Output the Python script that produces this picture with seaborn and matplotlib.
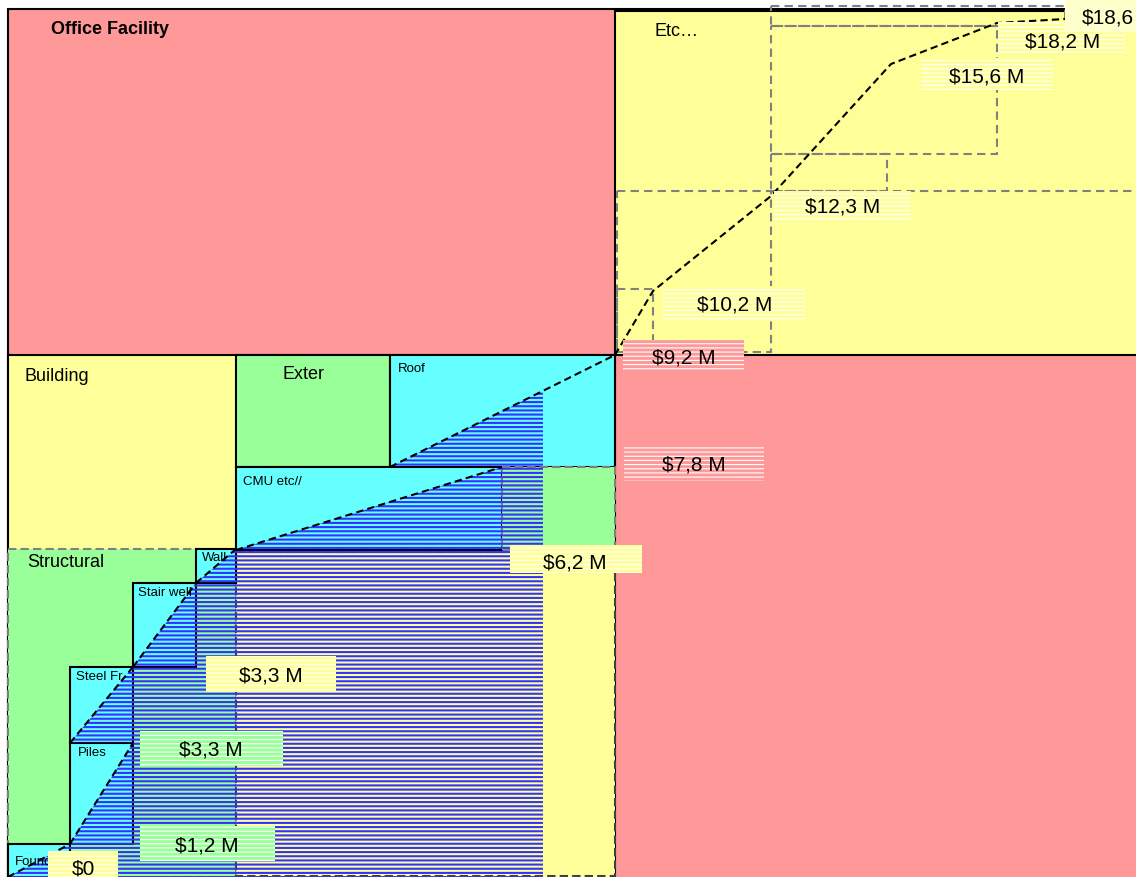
import matplotlib
matplotlib.use("Agg")
import matplotlib.pyplot as plt
from matplotlib.patches import Rectangle, Polygon
import seaborn as sns

# work breakdown boxes, in the pixel grid of the original sheet (left, top, right, bottom)
box_names = ["office", "building", "etc", "structural", "exter", "roof", "cmu", "cmu_rest",
             "interior", "wall", "stair", "steel", "piles", "found"]
box_left = [8, 8, 615, 8, 236, 390, 236, 502, 236, 196, 133, 70, 70, 8]
box_top = [10, 356, 12, 550, 356, 356, 468, 468, 553, 550, 584, 668, 744, 845]
box_right = [1140, 615, 1140, 236, 390, 615, 502, 615, 615, 236, 196, 133, 133, 70]
box_bottom = [882, 882, 356, 878, 468, 468, 551, 551, 877, 584, 668, 744, 845, 878]
box_kind = ["red", "yellow", "yellow", "green", "green", "cyan", "cyan", "green",
            "yellow", "cyan", "cyan", "cyan", "cyan", "cyan"]

# package names written in the boxes
name_text = ["Office Facility", "Building", "Etc…", "Structural", "Exter", "Roof", "CMU etc//",
             "Wall", "Stair well", "Steel Fr", "Piles", "Found"]
name_x = [51, 24, 655, 27, 282, 398, 243, 202, 138, 76, 78, 15]
name_y = [30, 377, 31, 563, 375, 369, 482, 558, 593, 677, 753, 862]

# boxes the cumulative cost line climbs through (in order)
step_boxes = ["found", "piles", "steel", "stair", "wall", "cmu", "roof"]

# cumulative cost line through the "Etc" part
etc_x = [615, 653, 771, 891, 997, 1065, 1090]
etc_y = [356, 292, 197, 65, 24, 20, 17]

# planned milestone frames (grey dashed)
frame_left = [617, 617, 771, 771, 771]
frame_top = [290, 192, 155, 27, 7]
frame_right = [653, 771, 887, 997, 1065]
frame_bottom = [353, 353, 192, 155, 27]

# cumulative cost labels
cost_text = ["$0", "$1,2 M", "$3,3 M", "$3,3 M", "$6,2 M", "$7,8 M", "$9,2 M",
             "$10,2 M", "$12,3 M", "$15,6 M", "$18,2 M", "$18,6"]
cost_x = [72, 175, 179, 239, 543, 662, 652, 697, 805, 949, 1025, 1082]
cost_y = [869, 846, 750, 676, 563, 465, 358, 305, 207, 77, 42, 18]
tag_left = [48, 140, 140, 206, 510, 624, 623, 663, 774, 921, 998, 1065]
tag_top = [852, 827, 732, 657, 546, 446, 341, 287, 192, 59, 23, 0]
tag_right = [118, 275, 283, 336, 642, 764, 744, 805, 911, 1053, 1125, 1136]
tag_bottom = [878, 862, 767, 693, 574, 482, 373, 321, 223, 91, 55, 33]
tag_kind = ["yellow", "green", "green", "yellow", "yellow", "red", "red",
            "yellow", "yellow", "yellow", "yellow", "pale"]

palette = {"red": "#FF9999", "yellow": "#FFFF99", "green": "#99FF99",
           "cyan": "#66FFFF", "pale": "#FFFFCC"}
hatch_right = 543

sns.set_theme(style="white")
plt.rcParams["font.family"] = ["Liberation Sans", "DejaVu Sans"]


def hatch_width(patch, w):
    # newer matplotlib keeps hatch width per patch; older ones only use the rcParam
    if hasattr(patch, "set_hatch_linewidth"):
        patch.set_hatch_linewidth(w)
    else:
        plt.rcParams["hatch.linewidth"] = w


fig = plt.figure(figsize=(11.36, 8.78), dpi=100)
ax = fig.add_axes([0, 0, 1, 1])
ax.set_xlim(0, 1136)
ax.set_ylim(878, 0)
ax.axis("off")

dashed_boxes = {"structural", "cmu_rest", "interior"}
for n, l, t, r, b, k in zip(box_names, box_left, box_top, box_right, box_bottom, box_kind):
    if n in dashed_boxes:
        ec, ls = ("#404040" if n == "interior" else "#808080"), (0, (4, 2))
    else:
        ec, ls = "black", "-"
    ax.add_patch(Rectangle((l, t), r - l, b - t, facecolor=palette[k], edgecolor=ec,
                           linewidth=1.5, linestyle=ls, zorder=1))

# earned area under the cost line, blue horizontal stripes
box = {n: (l, t, r, b) for n, l, t, r, b in zip(box_names, box_left, box_top, box_right, box_bottom)}
pts = []
for n in step_boxes:
    l, t, r, b = box[n]
    pts += [(l, b), (r, t)]
pts += [(box[step_boxes[-1]][2], 878), (box[step_boxes[0]][0], 878)]
earned = Polygon(pts, closed=True, facecolor="none", edgecolor="#3333FF", linewidth=0,
                 hatch="----", zorder=2)
hatch_width(earned, 1.5)
ax.add_patch(earned)
earned.set_clip_path(Rectangle((0, 0), hatch_right, 878, transform=ax.transData))

for l, t, r, b in zip(frame_left, frame_top, frame_right, frame_bottom):
    ax.add_patch(Rectangle((l, t), r - l, b - t, fill=False, edgecolor="#808080",
                           linewidth=1.5, linestyle=(0, (4, 2.5)), zorder=3))
ax.plot([771, 1136], [192, 192], color="#808080", lw=1.5, ls=(0, (4, 2.5)), zorder=3)

# cost line: one diagonal per package, then the remaining curve
for n in step_boxes:
    l, t, r, b = box[n]
    sns.lineplot(x=[l, r], y=[b, t], ax=ax, color="black", lw=1.5,
                 linestyle=(0, (3.5, 2)), zorder=4)
sns.lineplot(x=etc_x, y=etc_y, ax=ax, color="black", lw=1.5, linestyle=(0, (3.5, 2)),
             sort=False, zorder=4)
ax.set_xlim(0, 1136)
ax.set_ylim(878, 0)

for i, (s, x, y) in enumerate(zip(name_text, name_x, name_y)):
    big = i < 5
    ax.text(x, y, s, fontsize=13 if big else 9.5, va="center", ha="left",
            fontweight="bold" if i == 0 else "normal", color="black", zorder=5)

for s, x, y, l, t, r, b, k in zip(cost_text, cost_x, cost_y, tag_left, tag_top,
                                  tag_right, tag_bottom, tag_kind):
    tag = Rectangle((l, t), r - l, b - t, facecolor=palette[k],
                    edgecolor="white" if k != "pale" else palette[k],
                    linewidth=0, hatch="----" if k != "pale" else None, zorder=6)
    if hasattr(tag, "set_hatch_linewidth"):
        tag.set_hatch_linewidth(0.8)
    ax.add_patch(tag)
    ax.text(x, y, s, fontsize=15, va="center", ha="left", color="black", zorder=7)

fig.savefig("out.png", dpi=100, facecolor="white")
